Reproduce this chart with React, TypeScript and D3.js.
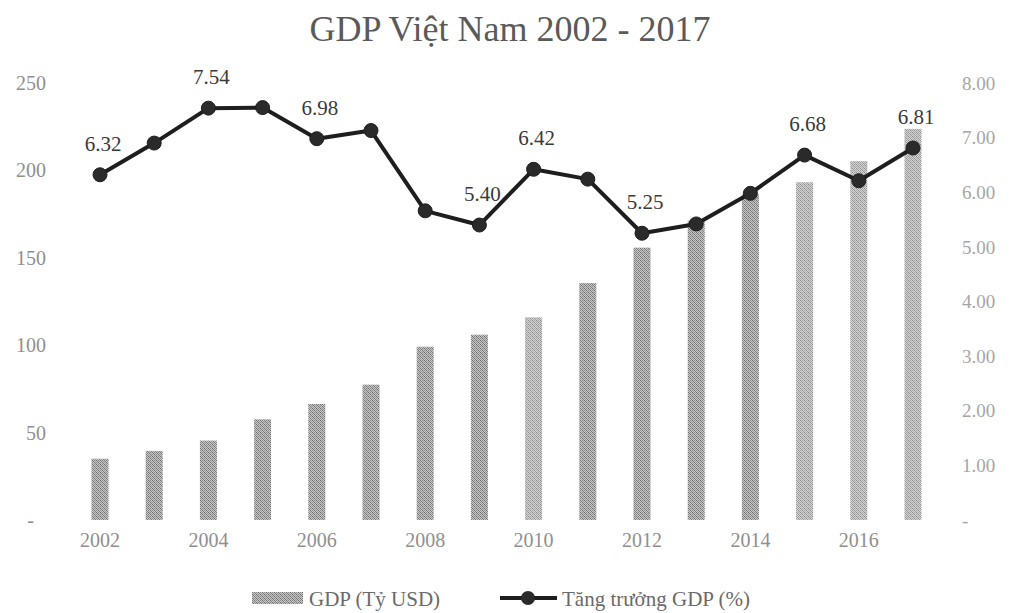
import * as d3 from "d3";

// GDP Việt Nam 2002 - 2017
const years = [
  2002, 2003, 2004, 2005, 2006, 2007, 2008, 2009, 2010, 2011, 2012, 2013,
  2014, 2015, 2016, 2017,
];
const gdp = [
  35.06, 39.55, 45.43, 57.63, 66.37, 77.41, 99.13, 106.01, 115.93, 135.54,
  155.82, 171.22, 186.2, 193.24, 205.28, 223.78,
];
const growth = [
  6.32, 6.9, 7.54, 7.55, 6.98, 7.13, 5.66, 5.4, 6.42, 6.24, 5.25, 5.42, 5.98,
  6.68, 6.21, 6.81,
];
const labeledYears = [2002, 2004, 2006, 2009, 2010, 2012, 2015, 2017];
const xTickYears = [2002, 2004, 2006, 2008, 2010, 2012, 2014, 2016];
const leftTicks = [0, 50, 100, 150, 200, 250];
const rightTicks = [0, 1, 2, 3, 4, 5, 6, 7, 8];

const W = 1012;
const H = 613;
const FONT = "'Liberation Serif', 'Times New Roman', serif";

export default function App() {
  const x = d3
    .scalePoint<number>()
    .domain(years)
    .range([100, 913]);
  const yL = d3.scaleLinear().domain([0, 250]).range([520, 83]);
  const yR = d3.scaleLinear().domain([0, 8]).range([520, 83]);
  const barW = 17;

  const line = d3
    .line<number>()
    .x((_, i) => x(years[i])!)
    .y((d) => yR(d));

  return (
    <svg
      width={W}
      height={H}
      style={{ position: "absolute", left: 0, top: 0, background: "#fff" }}
      fontFamily={FONT}
    >
      <defs>
        {/* dithered grey texture like the scanned bars */}
        <pattern id="tex" width="4" height="4" patternUnits="userSpaceOnUse">
          <rect width="4" height="4" fill="#c4c4c4" />
          <rect x="0" y="0" width="1" height="1" fill="#6e6e6e" />
          <rect x="2" y="0" width="1" height="1" fill="#8a8a8a" />
          <rect x="1" y="1" width="1" height="1" fill="#7a7a7a" />
          <rect x="3" y="1" width="1" height="1" fill="#999" />
          <rect x="0" y="2" width="1" height="1" fill="#909090" />
          <rect x="2" y="2" width="1" height="1" fill="#747474" />
          <rect x="1" y="3" width="1" height="1" fill="#a0a0a0" />
          <rect x="3" y="3" width="1" height="1" fill="#808080" />
        </pattern>
        <pattern id="texL" width="4" height="4" patternUnits="userSpaceOnUse">
          <rect width="4" height="4" fill="#d2d2d2" />
          <rect x="0" y="0" width="1" height="1" fill="#8a8a8a" />
          <rect x="2" y="0" width="1" height="1" fill="#a4a4a4" />
          <rect x="1" y="1" width="1" height="1" fill="#969696" />
          <rect x="3" y="1" width="1" height="1" fill="#b0b0b0" />
          <rect x="0" y="2" width="1" height="1" fill="#a8a8a8" />
          <rect x="2" y="2" width="1" height="1" fill="#909090" />
          <rect x="1" y="3" width="1" height="1" fill="#b4b4b4" />
          <rect x="3" y="3" width="1" height="1" fill="#9c9c9c" />
        </pattern>
      </defs>

      <text
        x={W / 2 + 4}
        y={41}
        textAnchor="middle"
        fontSize={36}
        fill="#5a5a5a"
      >
        GDP Việt Nam 2002 - 2017
      </text>

      {/* left axis */}
      {leftTicks.map((t) => (
        <text
          key={"l" + t}
          x={t === 0 ? 34 : 46}
          y={yL(t)}
          dy="0.35em"
          textAnchor="end"
          fontSize={20}
          fill="#8f8f8f"
        >
          {t === 0 ? "-" : t}
        </text>
      ))}

      {/* right axis */}
      {rightTicks.map((t) => (
        <text
          key={"r" + t}
          x={t === 0 ? 962 : 962}
          y={yR(t)}
          dy="0.35em"
          textAnchor="start"
          fontSize={19}
          fill="#a6a6a6"
        >
          {t === 0 ? "-" : t.toFixed(2)}
        </text>
      ))}

      {/* x axis labels */}
      {xTickYears.map((yr) => (
        <text
          key={"x" + yr}
          x={x(yr)}
          y={547}
          textAnchor="middle"
          fontSize={20}
          fill="#8f8f8f"
        >
          {yr}
        </text>
      ))}

      {/* bars */}
      {gdp.map((v, i) => (
        <rect
          key={"b" + i}
          x={x(years[i])! - barW / 2}
          y={yL(v)}
          width={barW}
          height={yL(0) - yL(v)}
          fill={i >= 13 || i === 8 ? "url(#texL)" : "url(#tex)"}
        />
      ))}

      {/* growth line */}
      <path
        d={line(growth) ?? ""}
        fill="none"
        stroke="#1e1e1e"
        strokeWidth={4}
        strokeLinejoin="round"
      />
      {growth.map((v, i) => (
        <circle
          key={"c" + i}
          cx={x(years[i])}
          cy={yR(v)}
          r={7}
          fill="#2a2a2a"
          stroke="#1e1e1e"
          strokeWidth={1}
        />
      ))}
      {growth.map((v, i) =>
        labeledYears.includes(years[i]) ? (
          <text
            key={"t" + i}
            x={x(years[i])! + 3}
            y={yR(v) - 24}
            textAnchor="middle"
            fontSize={21}
            fill="#3a3a3a"
          >
            {v.toFixed(2)}
          </text>
        ) : null
      )}

      {/* legend */}
      <g transform="translate(0,598)">
        <rect x={252} y={-6} width={51} height={12} fill="url(#tex)" />
        <text x={309} y={8} fontSize={21} fill="#6a6a6a">
          GDP (Tỷ USD)
        </text>
        <line x1={500} x2={557} y1={0} y2={0} stroke="#1e1e1e" strokeWidth={4} />
        <circle cx={528} cy={0} r={7} fill="#2a2a2a" />
        <text x={562} y={8} fontSize={21} fill="#6a6a6a">
          Tăng trưởng GDP (%)
        </text>
      </g>
    </svg>
  );
}
